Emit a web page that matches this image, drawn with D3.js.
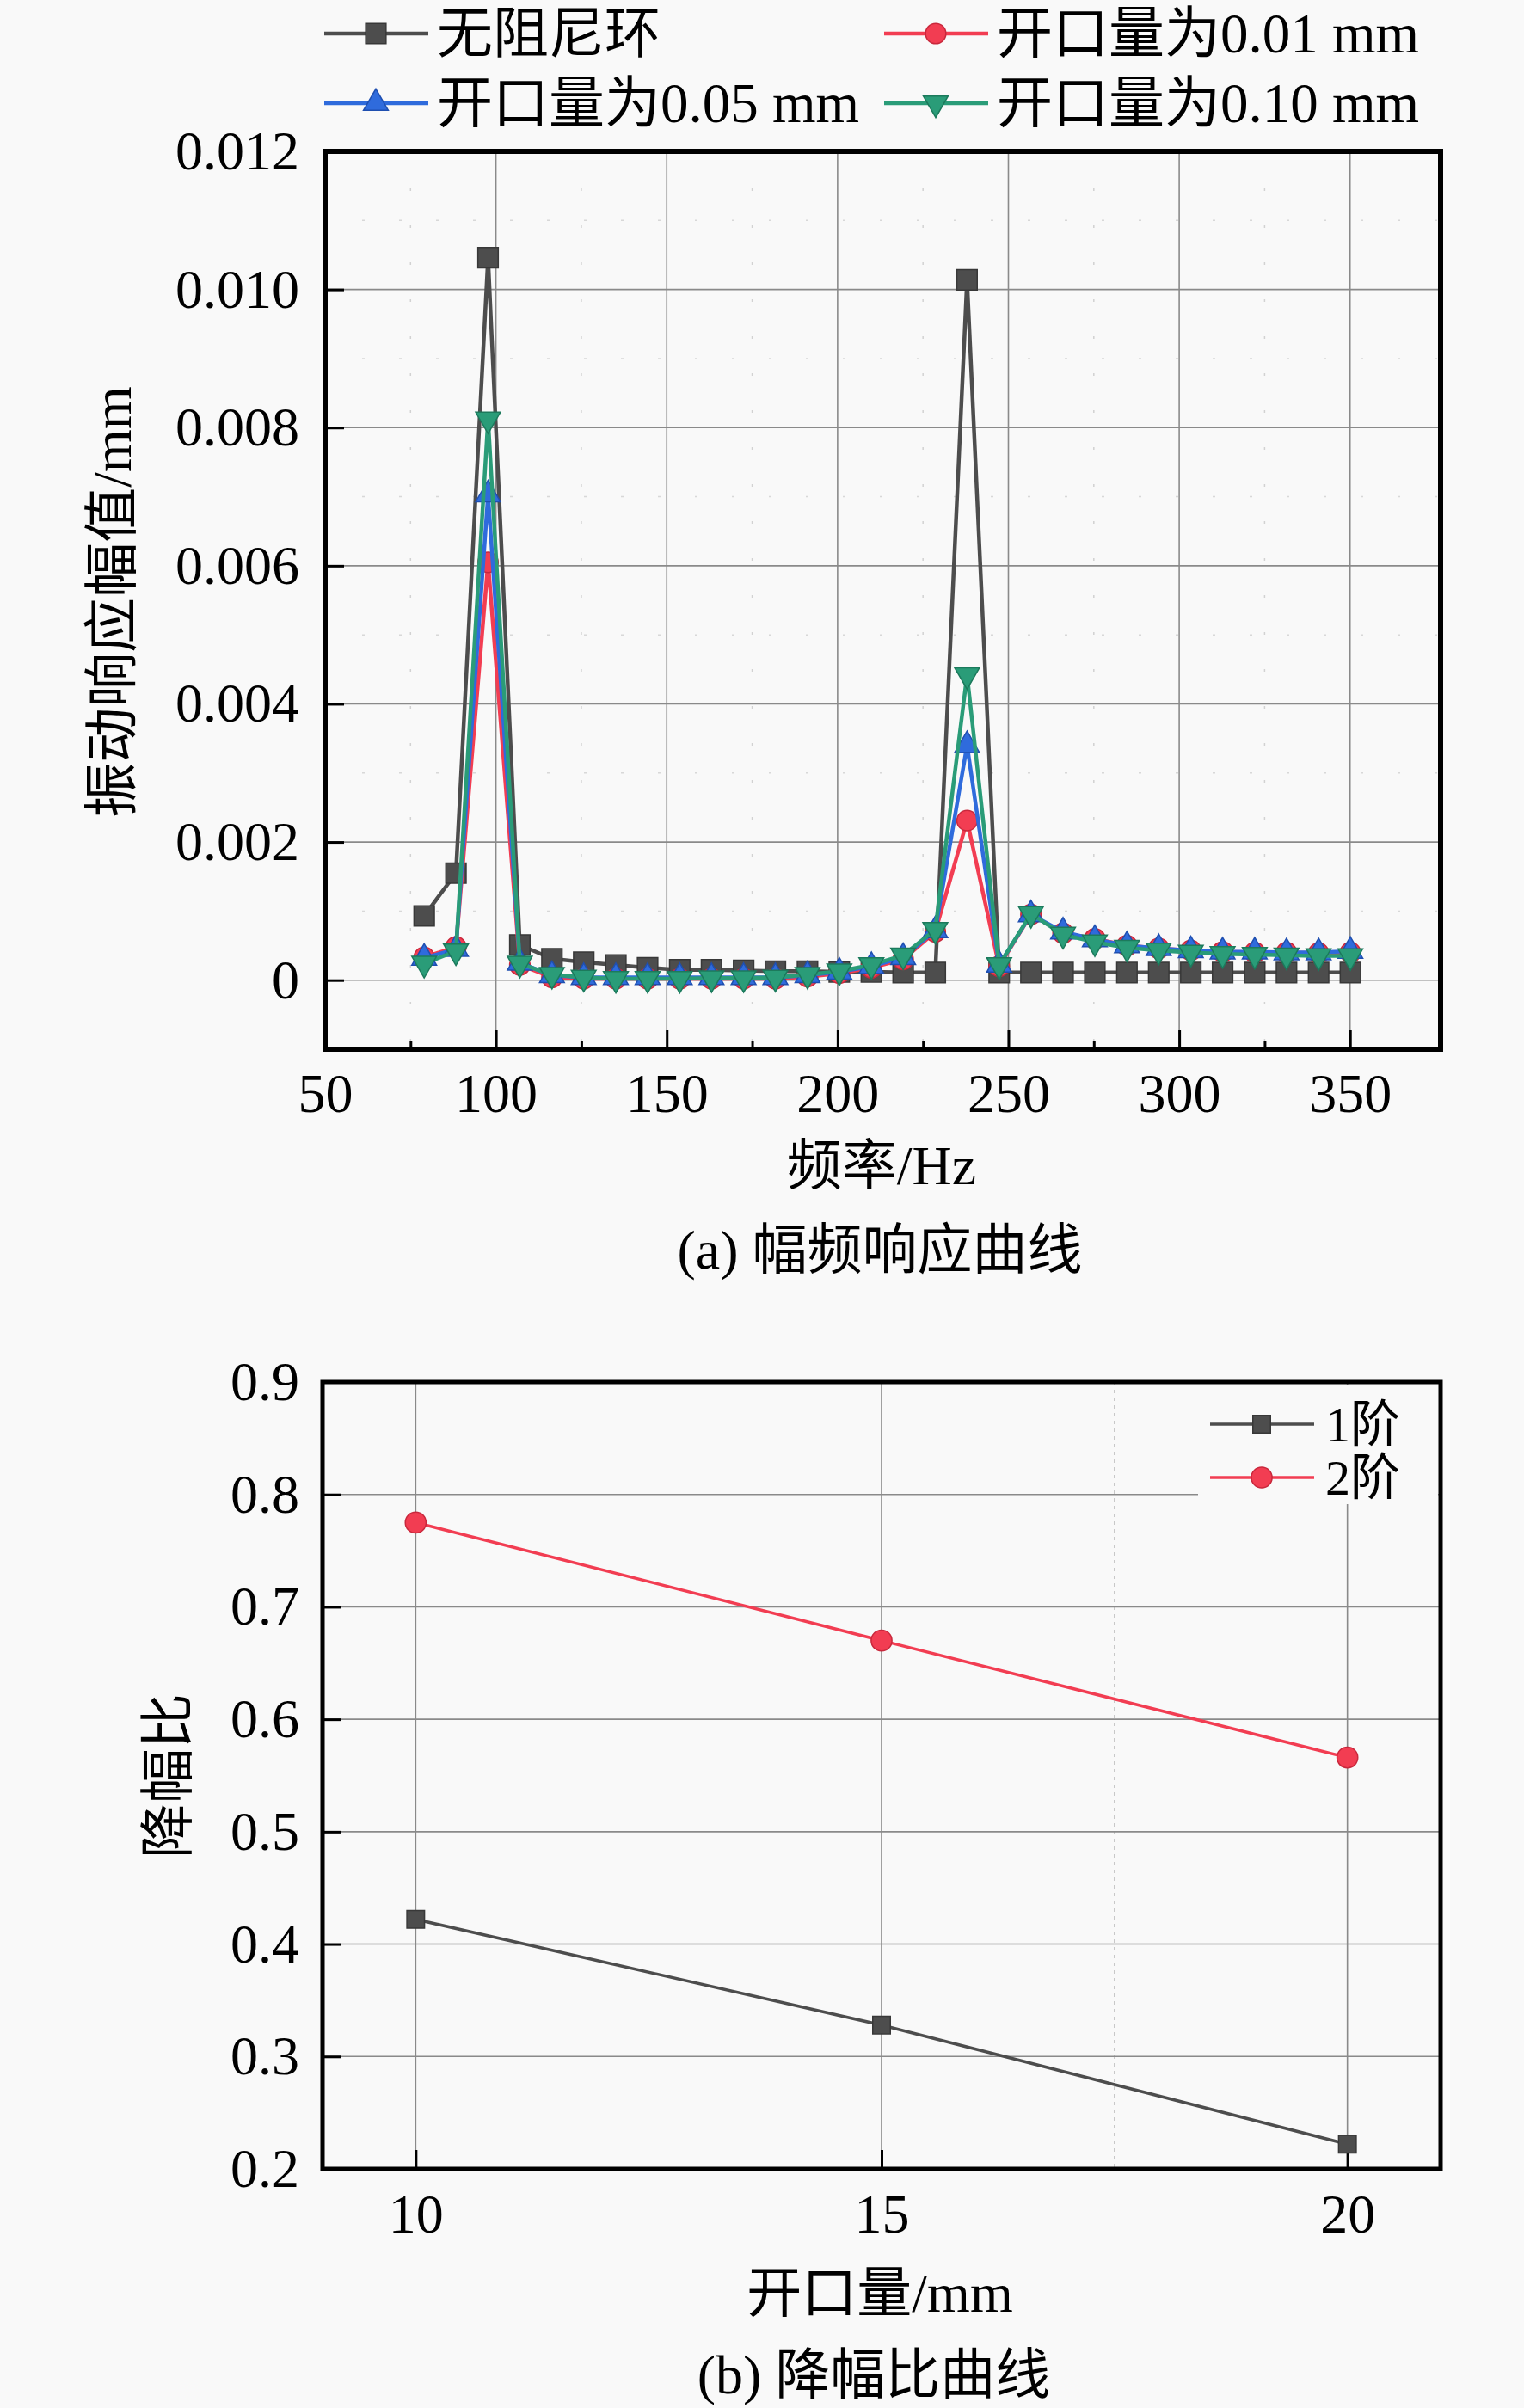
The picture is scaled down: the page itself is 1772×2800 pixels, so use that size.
<!DOCTYPE html>
<html><head><meta charset="utf-8">
<script src="https://cdn.jsdelivr.net/npm/d3@7/dist/d3.min.js"></script>
<style>
body{margin:0;background:#f9f9f9}
svg{display:block}
</style>
</head><body>
<svg id="c" width="1772" height="2800"></svg>
<script>
// ---------- data (a) ----------
const freq = [79, 88.3, 97.7, 107, 116.4, 125.7, 135.1, 144.4, 153.8, 163.1, 172.5, 181.8, 191.2, 200.5, 209.9,
  219.2, 228.6, 237.9, 247.3, 256.6, 266, 275.3, 284.7, 294, 303.4, 312.7, 322.1, 331.4, 340.8, 350.1];
const noRing = [0.00093, 0.00155, 0.01046, 0.00051, 0.00031, 0.00026, 0.00022, 0.00018, 0.00015, 0.00015, 0.00014, 0.00013, 0.00013, 0.00012, 0.00012,
  0.00011, 0.00011, 0.01014, 0.00011, 0.00011, 0.00011, 0.00011, 0.00011, 0.00011, 0.00011, 0.00011, 0.00011, 0.00011, 0.00011, 0.00011];
const open001 = [0.00033, 0.00048, 0.00605, 0.00022, 0.00004, 0.00002, 0.00002, 0.00002, 0.00002, 0.00002, 0.00002, 0.00002, 0.00005, 0.00010, 0.00018,
  0.00030, 0.00070, 0.00231, 0.00020, 0.00095, 0.00068, 0.00060, 0.00050, 0.00046, 0.00043, 0.00041, 0.00040, 0.00040, 0.00039, 0.00040];
const open005 = [0.00032, 0.00045, 0.00703, 0.00025, 0.00007, 0.00004, 0.00004, 0.00004, 0.00004, 0.00004, 0.00004, 0.00004, 0.00007, 0.00012, 0.00020,
  0.00033, 0.00072, 0.00340, 0.00022, 0.00095, 0.00070, 0.00059, 0.00050, 0.00046, 0.00043, 0.00041, 0.00041, 0.00040, 0.00040, 0.00042];
const open010 = [0.00024, 0.00042, 0.00812, 0.00024, 0.00008, 0.00004, 0.00002, 0.00002, 0.00002, 0.00003, 0.00003, 0.00004, 0.00008, 0.00013, 0.00022,
  0.00036, 0.00073, 0.00442, 0.00022, 0.00096, 0.00066, 0.00055, 0.00047, 0.00043, 0.00040, 0.00038, 0.00037, 0.00036, 0.00035, 0.00035];
const seriesNamesA = ["无阻尼环", "开口量为0.01 mm", "开口量为0.05 mm", "开口量为0.10 mm"];
const xTicksA = [50, 100, 150, 200, 250, 300, 350];
const xMinorA = [75, 125, 175, 225, 275, 325];
const yTicksA = [0, 0.002, 0.004, 0.006, 0.008, 0.010, 0.012];
const yTickLabelsA = ["0", "0.002", "0.004", "0.006", "0.008", "0.010", "0.012"];
const yMinorA = [0.001, 0.003, 0.005, 0.007, 0.009, 0.011];

// ---------- data (b) ----------
const opening = [10, 15, 20];
const order1 = [0.422, 0.328, 0.222];
const order2 = [0.775, 0.670, 0.566];
const seriesNamesB = ["1阶", "2阶"];
const xTicksB = [10, 15, 20];
const xMinorB = [17.5];
const yTicksB = [0.2, 0.3, 0.4, 0.5, 0.6, 0.7, 0.8, 0.9];

const COLORS = ["#4d4d4d", "#f23d52", "#2f6bdc", "#2a9c78"];
const EDGE = ["#383838", "#c9283c", "#1f4fb0", "#1c7a5c"];
const FONT = '"Liberation Serif","Times New Roman","Noto Sans CJK SC",serif';
const FS = 64;

const svg = d3.select("#c");
svg.append("rect").attr("width", 1772).attr("height", 2800).attr("fill", "#f9f9f9");

function txt(g, x, y, s, anchor, size) {
  return g.append("text").attr("x", x).attr("y", y).attr("text-anchor", anchor || "middle")
    .attr("font-family", FONT).attr("font-size", size || FS).attr("fill", "#000").text(s);
}
function marker(type, size) {
  const sym = type === "square" ? d3.symbolSquare : type === "circle" ? d3.symbolCircle : d3.symbolTriangle;
  return d3.symbol().type(sym).size(size)();
}
const symA = [["square", 560, 0], ["circle", 440, 0], ["tri", 360, 0], ["tri", 360, 180]];

// =============== chart (a) ===============
const A = {l: 378, r: 1675, t: 176, b: 1220};
const xA = d3.scaleLinear().domain([50, 376.5]).range([A.l, A.r]);
const yA = d3.scaleLinear().domain([-0.001, 0.012]).range([A.b, A.t]);
const gA = svg.append("g");

// minor grid (sparse dots)
gA.selectAll(".mgx").data(xMinorA).join("line")
  .attr("x1", d => xA(d)).attr("x2", d => xA(d)).attr("y1", A.t).attr("y2", A.b)
  .attr("stroke", "#d2d2d2").attr("stroke-width", 1.5).attr("stroke-dasharray", "3,40");
gA.selectAll(".mgy").data(yMinorA).join("line")
  .attr("y1", d => yA(d)).attr("y2", d => yA(d)).attr("x1", A.l).attr("x2", A.r)
  .attr("stroke", "#d8d8d8").attr("stroke-width", 1.5).attr("stroke-dasharray", "3,40");
// major grid
gA.selectAll(".gx").data(xTicksA.slice(1)).join("line")
  .attr("x1", d => xA(d)).attr("x2", d => xA(d)).attr("y1", A.t).attr("y2", A.b)
  .attr("stroke", "#8a8a8a").attr("stroke-width", 1.6);
gA.selectAll(".gy").data(yTicksA.slice(0, -1)).join("line")
  .attr("y1", d => yA(d)).attr("y2", d => yA(d)).attr("x1", A.l).attr("x2", A.r)
  .attr("stroke", "#8a8a8a").attr("stroke-width", 1.6);

// axes (inward ticks)
const axA = gA.append("g").attr("transform", `translate(0,${A.b})`)
  .call(d3.axisBottom(xA).tickValues(xTicksA).tickSize(-22).tickPadding(28).tickFormat(d3.format("d")));
const ayA = gA.append("g").attr("transform", `translate(${A.l},0)`)
  .call(d3.axisLeft(yA).tickValues(yTicksA).tickSize(-22).tickPadding(30).tickFormat((d, i) => yTickLabelsA[i]));
gA.append("g").attr("transform", `translate(0,${A.b})`)
  .call(d3.axisBottom(xA).tickValues(xMinorA).tickSize(-10).tickFormat(""));
[axA, ayA].forEach(a => a.selectAll("text").attr("font-family", FONT).attr("font-size", FS).attr("fill", "#000"));
gA.selectAll(".domain").remove();
gA.selectAll(".tick line").attr("stroke", "#000").attr("stroke-width", 3);

// series
const seriesA = [noRing, open001, open005, open010];
const lineA = d3.line().x((d, i) => xA(freq[i])).y(d => yA(d));
seriesA.forEach((s, k) => {
  gA.append("path").datum(s).attr("d", lineA).attr("fill", "none")
    .attr("stroke", COLORS[k]).attr("stroke-width", 4.5).attr("stroke-linejoin", "round");
  gA.selectAll(".m" + k).data(s).join("path")
    .attr("d", marker(symA[k][0], symA[k][1]))
    .attr("transform", (d, i) => `translate(${xA(freq[i])},${yA(d)}) rotate(${symA[k][2]})`)
    .attr("fill", COLORS[k]).attr("stroke", EDGE[k]).attr("stroke-width", 1.5);
});

// frame
gA.append("rect").attr("x", A.l).attr("y", A.t).attr("width", A.r - A.l).attr("height", A.b - A.t)
  .attr("fill", "none").attr("stroke", "#000").attr("stroke-width", 6);

// legend (a)
const legA = [[377, 39], [1028, 39], [377, 120], [1028, 120]];
seriesNamesA.forEach((n, k) => {
  const [lx, ly] = legA[k];
  gA.append("line").attr("x1", lx).attr("x2", lx + 121).attr("y1", ly).attr("y2", ly)
    .attr("stroke", COLORS[k]).attr("stroke-width", 4.5);
  gA.append("path").attr("d", marker(symA[k][0], symA[k][1]))
    .attr("transform", `translate(${lx + 60},${ly}) rotate(${symA[k][2]})`)
    .attr("fill", COLORS[k]).attr("stroke", EDGE[k]).attr("stroke-width", 1.5);
  txt(gA, lx + 131, ly + 22, n, "start", 65);
});

// titles (a)
txt(gA, 1025, 1377, "频率/Hz");
txt(gA, 1023, 1475, "(a) 幅频响应曲线");
txt(gA, 0, 0, "振动响应幅值/mm").attr("transform", "translate(152,700) rotate(-90)");

// =============== chart (b) ===============
const B = {l: 375, r: 1675, t: 1607, b: 2522};
const xB = d3.scaleLinear().domain([9, 21]).range([B.l, B.r]);
const yB = d3.scaleLinear().domain([0.2, 0.9]).range([B.b, B.t]);
const gB = svg.append("g");

gB.selectAll(".mgx").data(xMinorB).join("line")
  .attr("x1", d => xB(d)).attr("x2", d => xB(d)).attr("y1", B.t).attr("y2", B.b)
  .attr("stroke", "#c4c4c4").attr("stroke-width", 1.5).attr("stroke-dasharray", "4,5");
gB.selectAll(".gx").data(xTicksB).join("line")
  .attr("x1", d => xB(d)).attr("x2", d => xB(d)).attr("y1", B.t).attr("y2", B.b)
  .attr("stroke", "#8a8a8a").attr("stroke-width", 1.6);
gB.selectAll(".gy").data(yTicksB.slice(1, -1)).join("line")
  .attr("y1", d => yB(d)).attr("y2", d => yB(d)).attr("x1", B.l).attr("x2", B.r)
  .attr("stroke", "#8a8a8a").attr("stroke-width", 1.6);

const axB = gB.append("g").attr("transform", `translate(0,${B.b})`)
  .call(d3.axisBottom(xB).tickValues(xTicksB).tickSize(-22).tickPadding(29).tickFormat(d3.format("d")));
const ayB = gB.append("g").attr("transform", `translate(${B.l},0)`)
  .call(d3.axisLeft(yB).tickValues(yTicksB).tickSize(-22).tickPadding(27).tickFormat(d3.format(".1f")));
[axB, ayB].forEach(a => a.selectAll("text").attr("font-family", FONT).attr("font-size", FS).attr("fill", "#000"));
gB.selectAll(".domain").remove();
gB.selectAll(".tick line").attr("stroke", "#000").attr("stroke-width", 3);

// legend background (covers grid)
gB.append("rect").attr("x", 1393).attr("y", 1611).attr("width", 279).attr("height", 138).attr("fill", "#f9f9f9");

const seriesB = [order1, order2];
const symB = [["square", 420, 0], ["circle", 460, 0]];
const lineB = d3.line().x((d, i) => xB(opening[i])).y(d => yB(d));
seriesB.forEach((s, k) => {
  gB.append("path").datum(s).attr("d", lineB).attr("fill", "none")
    .attr("stroke", COLORS[k]).attr("stroke-width", 3.5);
  gB.selectAll(".m" + k).data(s).join("path")
    .attr("d", marker(symB[k][0], symB[k][1]))
    .attr("transform", (d, i) => `translate(${xB(opening[i])},${yB(d)})`)
    .attr("fill", COLORS[k]).attr("stroke", EDGE[k]).attr("stroke-width", 1.5);
});

gB.append("rect").attr("x", B.l).attr("y", B.t).attr("width", B.r - B.l).attr("height", B.b - B.t)
  .attr("fill", "none").attr("stroke", "#000").attr("stroke-width", 5);

const legB = [[1407, 1656], [1407, 1718]];
seriesNamesB.forEach((n, k) => {
  const [lx, ly] = legB[k];
  gB.append("line").attr("x1", lx).attr("x2", lx + 121).attr("y1", ly).attr("y2", ly)
    .attr("stroke", COLORS[k]).attr("stroke-width", 3.5);
  gB.append("path").attr("d", marker(symB[k][0], symB[k][1]))
    .attr("transform", `translate(${lx + 60},${ly})`)
    .attr("fill", COLORS[k]).attr("stroke", EDGE[k]).attr("stroke-width", 1.5);
  txt(gB, lx + 134, ly + 20, n, "start", 58);
});

txt(gB, 1023, 2688, "开口量/mm");
txt(gB, 1016, 2783, "(b) 降幅比曲线");
txt(gB, 0, 0, "降幅比").attr("transform", "translate(217,2065) rotate(-90)");
</script>
</body></html>
